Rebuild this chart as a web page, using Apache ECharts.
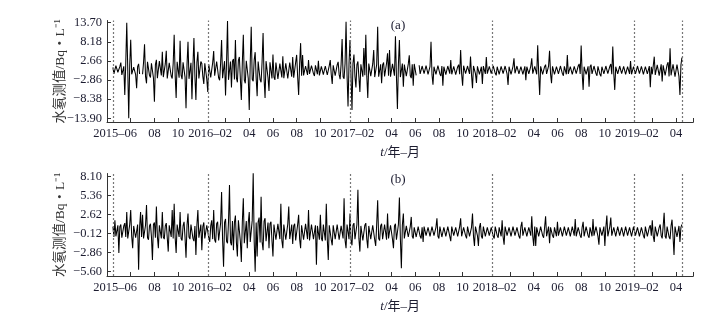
<!DOCTYPE html>
<html>
<head>
<meta charset="utf-8">
<script src="https://cdn.jsdelivr.net/npm/echarts@6/dist/echarts.min.js"></script>
<style>
html, body { margin: 0; padding: 0; background: #fff; }
#chart { width: 726px; height: 320px; }
</style>
</head>
<body>
<div id="chart"></div>
<script>
// x is counted in months: (year - 2015) * 12 + month, mid-month on the integer
const startMonth = 4.5;
const stepMonth = 1 / 12;

// (a) 水氡测值
const radonA = [
  0.8, -1.1, -1.2, 1.3, 1.5, -0.6, -0.9, 1.0, 2.2, -1.4, -1.6, 1.1, -7.2, 2.0, 13.7, 0.5, -13.9, 1.5, 8.8, -1.2,
  -1.5, 0.9, 1.2, -1.3, -5.2, 1.0, 1.8, -1.1, null, null, -1.2, 2.2, 7.5, -1.8, -3.8, 2.4, 1.9, -1.5, -2.1, 2.0,
  2.4, -2.2, -9.1, 1.6, 3.0, -2.3, -1.8, 2.6, 2.2, -1.5, 5.3, -2.0, -2.5, 1.8, 5.6, -2.4, -1.9, 2.1, 2.6, -1.7,
  -2.4, 1.9, 10.2, -1.5, -8.0, 2.4, 2.1, -2.2, 8.5, -1.4, -2.6, 2.3, 1.8, -2.0, -11.0, 1.6, 8.2, -2.5, -2.2, 2.1,
  -8.4, 1.3, 9.3, -1.9, -8.6, 2.2, 5.3, -2.4, -2.0, 2.5, 1.9, -1.8, -4.0, 2.0, 2.3, -2.6, -6.3, 1.7, 1.7, -2.1,
  -2.3, 2.2, 5.5, -1.6, -1.8, 2.5, 2.6, -2.2, -2.9, 1.9, 8.7, -2.3, -2.4, 2.6, -7.3, 2.0, 14.2, -2.8, -3.0, 2.5,
  -5.0, 2.6, 3.2, -2.7, 8.7, -2.2, -3.5, 2.8, 3.8, -2.5, -8.6, 2.3, 10.2, -2.9, -3.8, 2.7, 3.2, -2.4, -11.5, 2.2,
  12.5, -2.6, -3.2, 2.9, 5.2, -2.3, -7.5, 2.5, 2.8, -2.8, -3.5, 2.4, 10.7, -2.5, -8.0, 2.6, 3.0, -2.2, -6.0, 2.3,
  2.5, -2.4, 4.5, -2.0, -2.8, 2.2, 2.0, -2.5, -2.3, 1.9, 1.8, -2.1, 4.0, -2.3, -2.0, 2.0, 1.6, -2.4, -2.4, 2.2,
  2.2, -1.9, 3.8, -2.2, -1.9, 2.3, 4.4, -2.0, -7.2, 1.8, 7.8, -1.6, 4.4, -1.5, -1.6, 1.2, 1.3, -1.4, 2.9, -1.1,
  -1.5, 1.3, 1.2, -1.0, -1.7, 1.4, 1.4, -1.2, 2.7, -1.5, -1.3, 1.1, 1.6, -1.3, -1.8, 1.2, 1.1, -1.4, -1.4, 1.3,
  2.9, -1.2, -4.0, 1.4, 1.5, -1.6, -1.9, 1.5, 2.4, -1.3, -2.6, 1.8, 9.0, -1.9, -2.5, 2.0, 14.0, -1.5, -10.5, 1.9,
  8.7, -1.7, -11.5, 2.0, 4.5, -1.8, -5.0, 1.6, 2.5, -2.0, -6.3, 1.7, 2.0, -1.9, 6.4, -1.5, 10.2, -1.8, -8.0, 1.9,
  2.4, -1.7, -2.1, 1.8, 5.8, -2.0, -2.5, 1.6, 12.5, -1.9, -2.2, 1.7, -3.8, 1.5, 2.2, -1.8, -2.0, 2.0, 4.9, -1.6,
  5.8, -1.9, -2.4, 1.8, 2.0, -1.6, 9.8, -1.8, -11.2, 1.7, 8.7, -2.0, -2.2, 1.9, -4.8, 1.6, 2.1, -1.7, -1.9, 1.8,
  4.3, -1.6, -2.3, 1.7, -4.5, 1.8, 1.8, -1.5, null, null, 1.4, -1.1, -1.3, 1.2, 1.7, -1.0, -1.5, 1.3, 1.2, -1.2,
  -1.6, 1.1, 8.2, -1.3, -4.2, 1.0, 1.5, -1.2, -1.2, 1.3, 1.8, -1.1, -1.7, 1.2, -4.5, 1.0, 1.3, -1.3, -1.1, 1.2,
  1.5, -1.0, 2.9, -1.2, -1.4, 1.1, 1.2, -1.3, -1.8, 1.0, 1.6, -1.2, 5.8, -1.1, -4.5, 1.3, 1.4, -1.0, -1.2, 1.2,
  1.2, -1.1, 3.9, -1.3, -5.2, 1.2, 1.5, -1.0, -3.7, 1.1, 1.3, -1.2, -1.6, 1.0, -4.0, 1.2, 1.7, -1.1, 3.8, -1.0,
  -1.2, 1.1, 1.4, -1.0, -1.1, 1.2, 1.3, -0.9, -1.5, 1.0, 1.0, -1.2, -1.3, 1.1, 1.6, -1.0, -1.0, 1.2, 1.2, -1.1,
  -4.3, 1.0, 1.1, -1.2, -1.2, 1.1, 3.4, -0.9, -1.0, 1.2, 1.4, -1.1, -1.5, 1.0, 1.2, -1.2, -1.1, 1.1, -2.9, 1.0,
  1.3, -1.1, -1.0, 1.2, 3.4, -1.0, -1.4, 1.1, 1.1, -1.2, 7.2, -0.8, -7.2, 1.1, 1.5, -1.2, -1.3, 1.0, 1.6, -1.1,
  -1.4, 1.2, 5.6, -1.0, -3.8, 1.1, 1.3, -1.2, -1.2, 1.0, 1.5, -1.1, -1.1, 1.2, 1.2, -1.0, -1.6, 1.1, 1.4, -1.2,
  4.4, -1.1, -1.3, 1.0, 1.5, -1.2, -1.7, 1.1, 1.2, -1.0, -1.5, 1.2, 1.8, -1.1, 7.1, -0.9, -5.7, 1.0, 1.4, -1.2,
  -1.2, 1.1, -4.8, 1.0, 1.6, -1.1, -1.3, 1.2, 1.7, -1.0, -1.6, 1.1, 1.3, -1.2, -1.8, 1.0, 1.5, -1.1, -1.2, 1.2,
  1.4, -1.0, -1.5, 1.1, 1.8, -1.2, 6.8, -0.9, -5.7, 1.0, 1.2, -1.1, -1.4, 1.2, 1.6, -1.0, -1.3, 1.1, 1.1, -1.2,
  -1.4, 1.0, 1.2, -1.1, 2.6, -1.2, -1.1, 1.0, 1.4, -1.1, -1.3, 1.2, 1.0, -1.0, -1.5, 1.1, 1.3, -1.2, -1.2, 1.0,
  1.1, -1.1, -1.4, 1.2, -4.9, 1.0, -1.2, 1.3, 3.9, -1.4, -1.6, 1.5, 1.8, -1.6, -1.4, 1.7, -3.3, 1.4, 1.9, -1.5,
  -1.7, 1.6, 2.3, -1.8, 6.3, -1.5, -1.8, 1.7, 2.0, -1.9, -2.2, 1.6, 1.9, -1.8, -7.2, 1.5, 3.6
];

// (b)
const radonB = [
  0.9, -0.6, 1.8, -0.5, -0.6, 1.1, -2.9, 0.9, 1.2, -0.7, -0.7, 1.0, 1.4, -0.6, 3.0, -0.8, -0.8, 1.2, 3.3, -0.5,
  -2.2, 1.0, 1.1, -0.7, -0.9, 1.2, -5.3, 0.8, 3.0, -0.6, 2.6, -0.8, -0.8, 1.1, 4.0, -0.7, -1.0, 1.0, 1.3, -0.6,
  -3.9, 1.2, 1.5, -0.7, 3.8, -0.5, -2.2, 1.1, 1.2, -0.8, 3.0, -0.6, -0.9, 1.0, 1.4, -0.7, -2.7, 1.1, 1.2, -0.6,
  3.3, -0.8, 4.2, -0.7, -2.9, 1.2, 1.3, -0.6, 3.0, -0.8, -1.1, 1.0, 1.6, -0.7, -3.6, 1.1, 2.8, -0.6, -0.9, 1.2,
  1.4, -0.8, -1.2, 1.0, -3.2, 1.1, 3.3, -0.7, -0.8, 1.2, -2.5, 0.9, 1.5, -0.8, -1.0, 1.1, 1.2, -0.7, -1.3, 1.0,
  1.8, -0.9, 3.3, -1.0, -1.4, 1.3, 1.6, -1.1, -1.1, 1.4, 5.9, -1.0, -4.9, 1.5, 2.0, -1.2, -1.5, 1.6, 6.9, -1.3,
  -1.8, 1.7, -2.5, 1.5, 2.5, -1.4, -3.4, 1.8, 1.8, -1.2, -4.2, 1.6, 5.0, -1.5, -1.6, 1.7, -2.2, 1.4, 3.0, -1.3,
  -1.5, 1.8, 8.6, -1.2, -5.6, 1.5, -3.4, 1.6, 2.2, -1.4, 5.2, -1.3, -2.5, 1.7, 2.1, -1.2, -1.2, 1.5, -2.2, 1.3,
  1.6, -1.1, -3.4, 1.2, 1.3, -1.0, -1.0, 1.3, 1.5, -0.9, 4.2, -1.1, -2.2, 1.2, 1.2, -1.0, -1.1, 1.3, 3.8, -0.9,
  -0.9, 1.2, -1.6, 1.0, 1.3, -1.1, -1.2, 1.2, 2.6, -0.9, -2.2, 1.1, 1.1, -1.0, -1.0, 1.3, 1.4, -0.9, 3.3, -1.1,
  -1.0, 1.2, 1.2, -0.9, -0.9, 1.1, -4.6, 1.0, 1.1, -1.0, 2.6, -0.8, -1.2, 1.2, 1.0, -1.1, 4.2, -0.9, -3.9, 1.1,
  1.2, -1.0, -1.8, 1.1, 1.0, -0.9, -0.9, 1.2, 1.3, -1.0, -1.1, 1.0, 1.2, -0.8, 5.0, -1.1, -2.2, 1.2, 1.1, -0.9,
  2.8, -1.0, -1.8, 1.1, 1.4, -0.9, -1.0, 1.2, 6.2, -0.8, -2.7, 1.0, 1.2, -1.1, -1.1, 1.1, 1.4, -0.9, -2.2, 1.0,
  1.2, -0.9, -1.0, 1.1, 1.1, -1.0, -1.9, 1.2, 4.7, -0.8, -1.1, 1.0, 1.3, -0.9, -1.0, 1.2, 1.2, -1.0, 2.8, -0.8,
  -1.0, 1.1, 1.1, -0.9, -2.2, 1.0, 1.3, -1.0, -1.1, 1.2, 5.1, -0.9, -5.1, 1.1, 2.8, -0.8, -0.9, 1.0, 1.0, -0.6,
  -0.7, 0.9, 2.3, -0.5, -0.8, 0.8, 1.0, -0.6, -0.6, 0.9, 0.9, -0.5, -0.8, 0.8, -1.3, 0.9, 1.0, -0.4, -0.6, 0.8,
  0.9, -0.5, -0.7, 0.9, 1.0, -0.4, -0.6, 0.8, 2.1, -0.5, -0.8, 0.9, 0.9, -0.6, -0.6, 0.8, 1.0, -0.5, -0.7, 0.9,
  0.8, -0.5, -1.2, 0.9, 1.0, -0.4, -0.6, 0.8, 0.9, -0.5, -0.7, 0.9, 2.1, -0.5, -0.6, 0.8, 1.0, -0.4, -0.8, 0.9,
  0.9, -0.5, -0.7, 0.8, 2.8, -0.5, -1.9, 0.9, 1.0, -0.4, -1.9, 0.8, 1.4, -0.5, -0.8, 0.9, 1.1, -0.5, -0.7, 0.8,
  0.9, -0.4, -0.6, 0.8, 1.0, -0.5, -0.8, 0.9, 0.8, -0.4, -0.7, 0.8, 1.0, -0.5, 1.8, -0.6, -1.7, 0.9, 0.9, -0.4,
  -0.6, 0.8, 0.8, -0.5, -0.7, 0.9, 1.0, -0.4, -0.6, 0.8, 0.9, -0.5, -0.8, 0.9, 1.6, -0.4, -0.6, 0.8, 0.9, -0.5,
  -0.7, 0.8, 1.0, -0.4, 2.4, -0.5, -1.9, 0.9, -1.9, 0.8, 0.8, -0.5, -0.6, 0.9, 1.0, -0.4, -0.7, 0.8, 2.4, -0.5,
  -0.6, 0.9, -1.5, 0.8, 0.9, -0.4, -0.7, 0.8, 1.0, -0.5, 1.6, -0.4, -0.6, 0.8, 0.8, -0.5, -0.7, 0.9, 0.9, -0.4,
  -0.6, 0.8, 1.0, -0.5, -0.7, 0.9, 0.8, -0.4, 2.0, -0.5, -0.6, 0.8, 0.9, -0.4, -0.7, 0.8, 1.6, -0.5, -0.6, 0.9,
  0.8, -0.4, -0.7, 0.8, 1.0, -0.5, 2.0, -0.4, -0.6, 0.9, 0.9, -0.5, -1.7, 0.8, 1.0, -0.4, -0.6, 0.9, -1.9, 0.8,
  2.5, -0.5, -0.7, 0.9, 2.2, -0.4, -0.6, 0.8, 0.9, -0.5, -0.7, 0.9, 1.0, -0.4, -0.6, 0.8, 0.8, -0.5, -0.7, 0.9,
  0.9, -0.4, -0.6, 0.8, 1.0, -0.5, -0.7, 0.9, 0.8, -0.4, -0.6, 0.8, 0.9, -0.5, -0.7, 0.8, 1.0, -0.4, -0.8, 0.9,
  0.9, -0.5, -0.6, 0.8, 1.1, -0.4, 1.8, -0.5, -1.3, 0.9, 0.9, -0.5, -0.7, 0.8, 1.2, -0.4, -0.8, 0.9, 2.9, -0.5,
  -0.8, 0.9, 1.1, -0.6, -0.9, 1.0, 1.9, -0.5, -3.2, 0.9, 1.0, -0.6, -0.8, 1.0, -1.3, 0.8, 1.2
];

const tickMonths = [6, 8, 10, 14, 16, 18, 20, 22, 26, 28, 30, 32, 34, 38, 40, 42, 44, 46, 50, 52];
const yearLines = [4.5, 12.5, 24.5, 36.5, 48.5, 52.5];
const yTicksA = [-13.90, -8.38, -2.86, 2.66, 8.18, 13.70];
const yTicksB = [-5.60, -2.86, -0.12, 2.62, 5.36, 8.10];

const FONT = "'Liberation Serif', 'Noto Sans CJK SC', serif";
const TXT = '#1c1c30';
const xMin = 4, xMax = 53.46;

function toPoints(arr) {
  return arr.map((v, i) => [startMonth + i * stepMonth, v === null ? '-' : v]);
}

function monthLabel(u) {
  const m = ((u - 1) % 12) + 1;
  const y = 2015 + Math.floor((u - 1) / 12);
  const mm = String(m).padStart(2, '0');
  if (m === 2 || u === 6) return '{p|' + y + '–' + mm + '}';
  return '{n|' + mm + '}';
}

function makeX(idx) {
  return {
    type: 'value', gridIndex: idx, min: xMin, max: xMax,
    name: '{i|t}/年–月', nameLocation: 'middle', nameGap: 24, nameMoveOverlap: false,
    nameTextStyle: {
      fontFamily: FONT, fontSize: 13, color: TXT,
      rich: { i: { fontFamily: FONT, fontSize: 13, fontStyle: 'italic', color: TXT } }
    },
    axisLine: { onZero: false, lineStyle: { color: '#333', width: 1 } },
    axisTick: { inside: true, length: 4, customValues: tickMonths.concat([xMax]), lineStyle: { color: '#333' } },
    axisLabel: {
      customValues: tickMonths, margin: 5, color: TXT, fontFamily: FONT, fontSize: 12.5,
      formatter: monthLabel,
      rich: {
        p: { fontFamily: FONT, fontSize: 12.5, color: TXT, padding: [0, 31, 0, 0] },
        n: { fontFamily: FONT, fontSize: 12.5, color: TXT }
      }
    },
    splitLine: { show: false }
  };
}

function makeY(idx, min, max, ticks) {
  return {
    type: 'value', gridIndex: idx, min: min, max: max,
    name: '水氡测值/Bq・L⁻¹', nameLocation: 'middle', nameGap: 40, nameMoveOverlap: false,
    nameTextStyle: { fontFamily: FONT, fontSize: 13.5, color: '#333' },
    axisLine: { show: true, lineStyle: { color: '#333', width: 1 } },
    axisTick: { inside: true, length: 4, customValues: ticks, lineStyle: { color: '#333' } },
    axisLabel: {
      customValues: ticks, margin: 5, color: TXT, fontFamily: FONT, fontSize: 12.5,
      formatter: v => v.toFixed(2).replace('-', '−')
    },
    splitLine: { show: false }
  };
}

function makeSeries(idx, arr) {
  return {
    type: 'line', xAxisIndex: idx, yAxisIndex: idx,
    data: toPoints(arr), showSymbol: false, symbol: 'none',
    connectNulls: false, animation: false,
    lineStyle: { color: '#000', width: 1.05 },
    markLine: {
      silent: true, symbol: ['none', 'none'], label: { show: false },
      lineStyle: { color: '#777', type: [2, 2], width: 1.2 },
      data: yearLines.map(u => ({ xAxis: u }))
    }
  };
}

const chart = echarts.init(document.getElementById('chart'), null, { renderer: 'canvas' });
chart.setOption({
  backgroundColor: '#fff',
  animation: false,
  grid: [
    { left: 107, top: 20.5, width: 586.3, height: 101.5 },
    { left: 107, top: 173.5, width: 586.3, height: 102.5 }
  ],
  xAxis: [makeX(0), makeX(1)],
  yAxis: [makeY(0, -14.97, 14.34, yTicksA), makeY(1, -6.22, 8.56, yTicksB)],
  graphic: [
    { type: 'text', x: 398, y: 26, style: { text: '(a)', align: 'center', verticalAlign: 'middle', fontFamily: FONT, fontSize: 13, fill: TXT } },
    { type: 'text', x: 398, y: 180, style: { text: '(b)', align: 'center', verticalAlign: 'middle', fontFamily: FONT, fontSize: 13, fill: TXT } }
  ],
  series: [makeSeries(0, radonA), makeSeries(1, radonB)]
});
</script>
</body>
</html>
